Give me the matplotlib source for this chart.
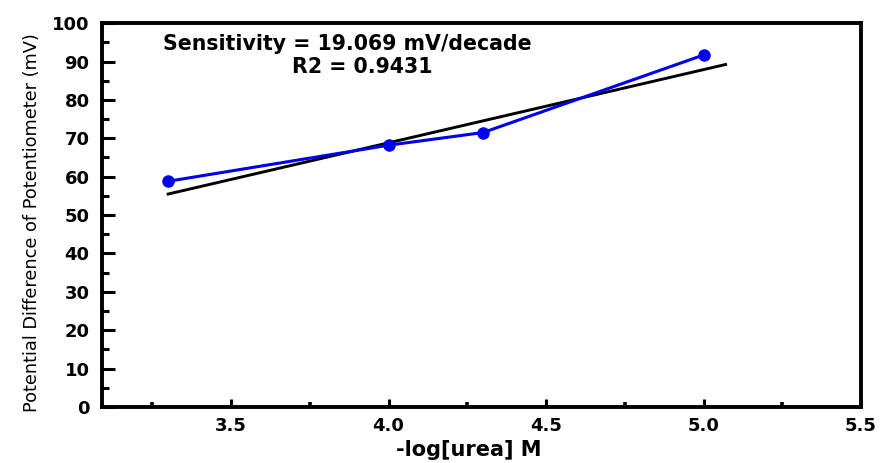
import matplotlib
matplotlib.use("Agg")
import matplotlib.pyplot as plt
from matplotlib.ticker import MultipleLocator, FormatStrFormatter

# measured response of the urea sensor
log_conc = [3.3, 4.0, 4.3, 5.0]
potential_mv = [58.8, 68.2, 71.5, 91.7]

# calibration line, slope as reported
fit_slope = 19.069
fit_intercept = -7.45
fit_x = [3.3, 5.07]
r2_value = 0.9431

x_ticks = [3.5, 4.0, 4.5, 5.0, 5.5]
y_ticks = list(range(0, 101, 10))

fig = plt.figure(figsize=(8.81, 4.63), dpi=100)
ax = fig.add_axes([0.1158, 0.121, 0.8615, 0.829])

ax.plot(log_conc, potential_mv, color='#0000ee', linewidth=2.2,
        marker='o', markersize=8, markerfacecolor='#0000ee',
        markeredgecolor='#0000ee', zorder=3)

fit_y = [fit_slope * x + fit_intercept for x in fit_x]
ax.plot(fit_x, fit_y, color='black', linewidth=2.1, zorder=2)

ax.set_xticks(x_ticks)
ax.set_yticks(y_ticks)
ax.xaxis.set_minor_locator(MultipleLocator(0.25))
ax.yaxis.set_minor_locator(MultipleLocator(5))
ax.xaxis.set_major_formatter(FormatStrFormatter('%.1f'))
ax.set_xlim(3.09, 5.5)
ax.set_ylim(0, 100)

for side in ['left', 'right', 'top', 'bottom']:
    ax.spines[side].set_linewidth(2.8)

ax.tick_params(axis='y', which='major', direction='in', length=9, width=2.2, pad=9)
ax.tick_params(axis='y', which='minor', direction='in', length=5, width=2.2)
ax.tick_params(axis='x', which='major', direction='in', length=6, width=2.2, pad=7)
ax.tick_params(axis='x', which='minor', direction='in', length=3.5, width=2.6)

for lbl in ax.get_xticklabels() + ax.get_yticklabels():
    lbl.set_fontfamily('DejaVu Sans')
    lbl.set_fontweight('bold')
    lbl.set_fontsize(13)

ax.set_xlabel('-log[urea] M', fontsize=15, fontweight='bold')
ax.set_ylabel('Potential Difference of Potentiometer (mV)', fontsize=12.8)
ax.yaxis.set_label_coords(-0.08, 0.48)
ax.xaxis.set_label_coords(0.483, -0.085)

ax.text(3.87, 94.5, f'Sensitivity = {fit_slope:.3f} mV/decade', ha='center', va='center',
        fontsize=14.8, fontweight='bold')
ax.text(3.915, 88.5, f'R2 = {r2_value}', ha='center', va='center',
        fontsize=14.8, fontweight='bold')

fig.savefig('out.png', dpi=100)
